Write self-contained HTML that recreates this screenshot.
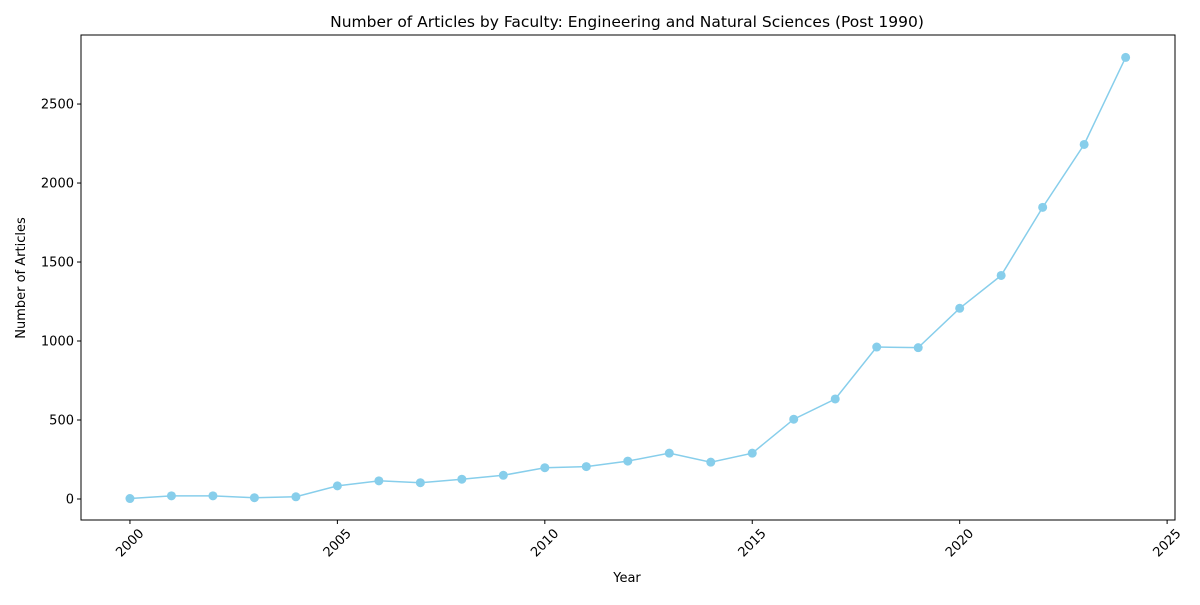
<!DOCTYPE html>
<html><head><meta charset="utf-8"><style>body{margin:0;background:#fff}svg{font-family:"DejaVu Sans","Liberation Sans",sans-serif}</style></head>
<body>
<svg id="chart" width="1200" height="600" xmlns="http://www.w3.org/2000/svg"></svg>
<script>
const years=[2000,2001,2002,2003,2004,2005,2006,2007,2008,2009,2010,2011,2012,2013,2014,2015,2016,2017,2018,2019,2020,2021,2022,2023,2024];
const articles=[3,20,20,8,14,83,115,103,125,150,198,205,240,290,233,290,505,633,962,958,1207,1415,1846,2244,2795];
const xTicks=[2000,2005,2010,2015,2020,2025];
const yTicks=[0,500,1000,1500,2000,2500];
const L=81,R=1175,T=35,B=520,xmin=1998.82,xmax=2025.19,ymin=-133,ymax=2937;
const X=v=>L+(v-xmin)/(xmax-xmin)*(R-L);
const Y=v=>B-(v-ymin)/(ymax-ymin)*(B-T);
const s=document.getElementById('chart');const NS='http://www.w3.org/2000/svg';
function mk(t,a,p){const e=document.createElementNS(NS,t);for(const k in a)e.setAttribute(k,a[k]);(p||s).appendChild(e);return e;}
let e;
e=mk('text',{x:627,y:27,'text-anchor':'middle','font-size':15.5});e.textContent='Number of Articles by Faculty: Engineering and Natural Sciences (Post 1990)';


xTicks.forEach(v=>{const x=X(v);mk('line',{x1:x,x2:x,y1:B,y2:B+4,stroke:'#000'});
const cy=B+23;
e=mk('text',{x:x,y:cy+4,'text-anchor':'middle','font-size':13,transform:`rotate(-45 ${x} ${cy})`});e.textContent=v;

});
yTicks.forEach(v=>{const y=Y(v);mk('line',{x1:L-4,x2:L,y1:y,y2:y,stroke:'#000'});
e=mk('text',{x:L-7,y:y+4.5,'text-anchor':'end','font-size':13});e.textContent=v;

});
e=mk('text',{x:627,y:582,'text-anchor':'middle','font-size':13});e.textContent='Year';


e=mk('text',{x:25,y:278,'text-anchor':'middle','font-size':13,transform:'rotate(-90 25 278)'});e.textContent='Number of Articles';


e=mk('polyline',{points:years.map((y,i)=>X(y)+','+Y(articles[i])).join(' '),fill:'none',stroke:'#87ceeb','stroke-width':1.5});


years.forEach((y,i)=>{e=mk('circle',{cx:X(y),cy:Y(articles[i]),r:4.5,fill:'#87ceeb'});

});
e=mk('rect',{x:L,y:T,width:R-L,height:B-T,fill:'none',stroke:'#000','stroke-width':1});


</script>
</body></html>
